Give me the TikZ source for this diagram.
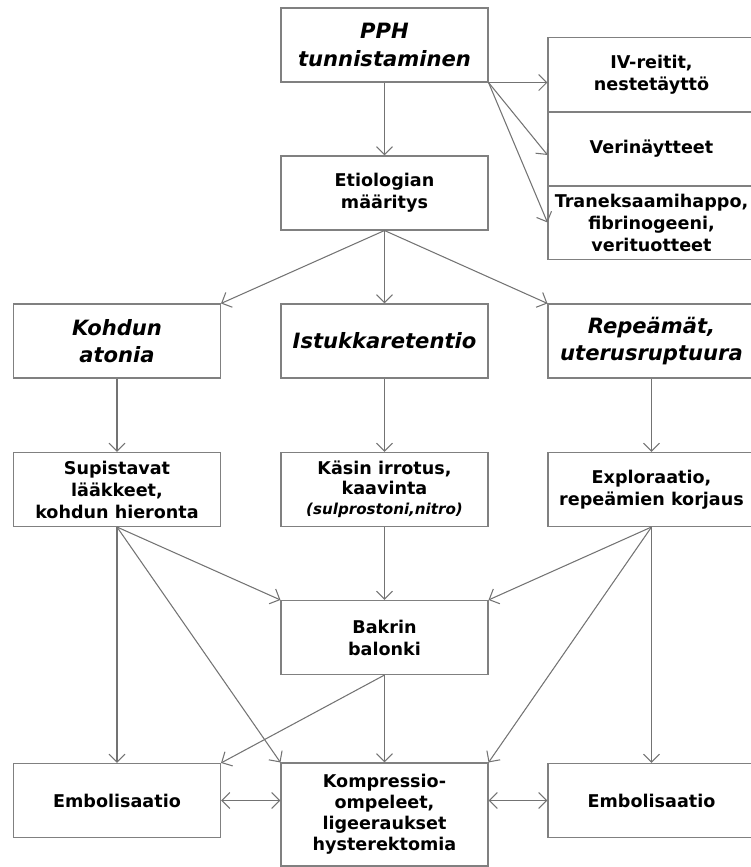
\documentclass[tikz,border=0pt]{standalone}
\usepackage{fontspec}
\setmainfont{DejaVu Sans}
\usepackage{tikz}
\usetikzlibrary{arrows.meta, calc, positioning}

\tikzset{
  box/.style={draw=black!50, line width=0.6pt, rectangle, minimum width=4.14cm, minimum height=1.48cm,
    inner sep=0pt, align=center, font=\bfseries\fontsize{10}{12.5}\selectfont},
  cause/.style={box, font=\bfseries\itshape\fontsize{12}{15.5}\selectfont},
  link/.style={draw=black!55, line width=0.6pt, ->},
}

\begin{document}
\begin{tikzpicture}[scale=1.0, >={Straight Barb[length=4.6pt,width=9.2pt]}]
    \useasboundingbox (0,0) rectangle (15,17.34);
    % top
    \node[cause] (pph) at (7.69,16.44) {PPH\\tunnistaminen};
    \node[box] (etio) at (7.69,13.48) {Etiologian\\määritys};
    \node[box] (iv) at (13.03,15.85) {IV-reitit,\\nestetäyttö};
    \node[box] (verin) at (13.03,14.36) {Verinäytteet};
    \node[box] (tranex) at (13.03,12.89) {Traneksaamihappo,\\fibrinogeeni,\\verituotteet};
    % causes
    \node[cause] (atonia) at (2.34,10.52) {Kohdun\\atonia};
    \node[cause] (retentio) at (7.69,10.52) {Istukkaretentio};
    \node[cause] (repeamat) at (13.03,10.52) {Repeämät,\\uterusruptuura};
    % first treatment
    \node[box] (supist) at (2.34,7.55) {Supistavat\\lääkkeet,\\kohdun hieronta};
    \node[box, font=\bfseries\fontsize{10}{11.4}\selectfont] (kasin) at (7.69,7.55)
        {Käsin irrotus,\\kaavinta\\{\itshape\fontsize{8.6}{11.4}\selectfont(sulprostoni,nitro)}};
    \node[box] (explor) at (13.03,7.55) {Exploraatio,\\repeämien korjaus};
    \node[box] (bakri) at (7.69,4.59) {Bakrin\\balonki};
    % last resort
    \node[box] (embl) at (2.34,1.33) {Embolisaatio};
    \node[box, minimum height=2.06cm, font=\bfseries\fontsize{10}{12}\selectfont] (komp) at (7.69,1.05)
        {Kompressio-\\ompeleet,\\ligeeraukset\\hysterektomia};
    \node[box] (embr) at (13.03,1.33) {Embolisaatio};

    \draw[link] (pph) -- (etio);
    \draw[link] (pph.south east) -- (pph.south east -| iv.west);
    \draw[link] (pph.south east) -- ([yshift=-3.4pt]verin.west);
    \draw[link] (pph.south east) -- (tranex.west);
    \draw[link] (etio.south) -- (atonia.north east);
    \draw[link] (etio) -- (retentio);
    \draw[link] (etio.south) -- (repeamat.north west);
    \draw[link] (atonia) -- (supist);
    \draw[link] (retentio) -- (kasin);
    \draw[link] (repeamat) -- (explor);
    \draw[link] (supist) -- (embl);
    \draw[link] (supist.south) -- (bakri.north west);
    \draw[link] (supist.south) -- (komp.north west);
    \draw[link] (kasin) -- (bakri);
    \draw[link] (explor.south) -- (bakri.north east);
    \draw[link] (explor.south) -- (komp.north east);
    \draw[link] (explor) -- (embr);
    \draw[link] (bakri) -- (komp);
    \draw[link] (bakri.south) -- (embl.north east);
    \draw[link, <->] (embl.east) -- (embl.east -| komp.west);
    \draw[link, <->] (embr.west -| komp.east) -- (embr.west);
\end{tikzpicture}
\end{document}
